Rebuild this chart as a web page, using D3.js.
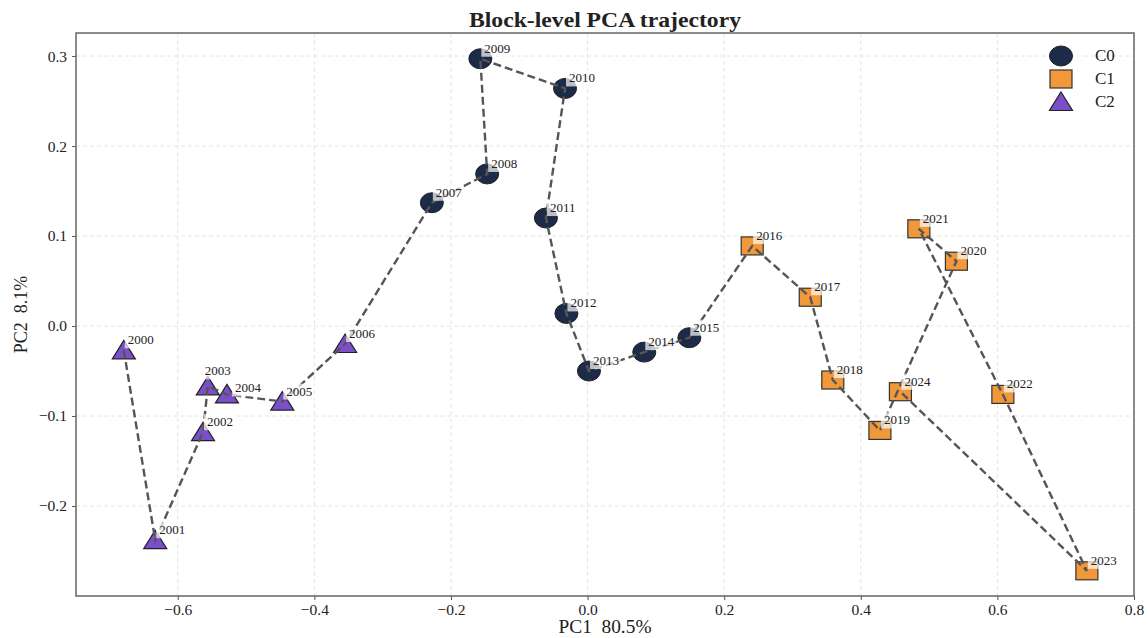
<!DOCTYPE html>
<html>
<head>
<meta charset="utf-8">
<script src="https://cdn.jsdelivr.net/npm/d3@7"></script>
<style>
  body { margin: 0; background: #fff; }
  svg text { font-family: "Liberation Serif", "DejaVu Serif", serif; fill: #222; white-space: pre; }
</style>
</head>
<body>
<svg id="chart" width="1148" height="638"></svg>
<script>
// ---- data ----
let years = [2000, 2001, 2002, 2003, 2004, 2005, 2006, 2007, 2008, 2009, 2010, 2011, 2012,
             2013, 2014, 2015, 2016, 2017, 2018, 2019, 2020, 2021, 2022, 2023, 2024];
let pc1 = [-0.679, -0.633, -0.563, -0.556, -0.528, -0.447, -0.355, -0.228, -0.147, -0.157, -0.033, -0.061, -0.031,
            0.002, 0.083, 0.149, 0.241, 0.326, 0.359, 0.428, 0.540, 0.485, 0.608, 0.731, 0.458];
let pc2 = [-0.027, -0.238, -0.118, -0.067, -0.076, -0.084, -0.020, 0.137, 0.169, 0.297, 0.264, 0.120, 0.014,
           -0.050, -0.029, -0.013, 0.089, 0.032, -0.060, -0.116, 0.072, 0.108, -0.076, -0.272, -0.073];
let cluster = ['C2', 'C2', 'C2', 'C2', 'C2', 'C2', 'C2', 'C0', 'C0', 'C0', 'C0', 'C0', 'C0',
               'C0', 'C0', 'C0', 'C1', 'C1', 'C1', 'C1', 'C1', 'C1', 'C1', 'C1', 'C1'];
let clusterNames = ['C0', 'C1', 'C2'];
let xTicks = [-0.6, -0.4, -0.2, 0.0, 0.2, 0.4, 0.6, 0.8];
let yTicks = [-0.2, -0.1, 0.0, 0.1, 0.2, 0.3];

let colors = { C0: '#1c2b47', C1: '#f0983a', C2: '#7b4fc9' };

let points = years.map((y, i) => ({ year: y, x: pc1[i], y: pc2[i], c: cluster[i] }));

let margin = { left: 76, right: 14, top: 33, bottom: 42 };
let W = 1148, H = 638;
let svg = d3.select('#chart');

let xScale = d3.scaleLinear()
    .domain([-0.749, 0.8])
    .range([margin.left, W - margin.right]);
let yScale = d3.scaleLinear()
    .domain([-0.3, 0.3256])
    .range([H - margin.bottom, margin.top]);

let fmt = v => d3.format('.1f')(v).replace('-', '\u2212');

// grid
svg.append('g')
    .selectAll('line')
    .data(xTicks)
    .join('line')
    .attr('x1', d => xScale(d)).attr('x2', d => xScale(d))
    .attr('y1', margin.top).attr('y2', H - margin.bottom)
    .attr('stroke', '#e4e4e4').attr('stroke-dasharray', '4,3');
svg.append('g')
    .selectAll('line')
    .data(yTicks)
    .join('line')
    .attr('y1', d => yScale(d)).attr('y2', d => yScale(d))
    .attr('x1', margin.left).attr('x2', W - margin.right)
    .attr('stroke', '#e4e4e4').attr('stroke-dasharray', '4,3');

// axes
let xAxis = svg.append('g')
    .attr('transform', `translate(0, ${H - margin.bottom})`)
    .call(d3.axisBottom(xScale).tickValues(xTicks).tickFormat(fmt).tickSize(4).tickPadding(4));
let yAxis = svg.append('g')
    .attr('transform', `translate(${margin.left}, 0)`)
    .call(d3.axisLeft(yScale).tickValues(yTicks).tickFormat(fmt).tickSize(4).tickPadding(5));
[xAxis, yAxis].forEach(a => {
    a.select('.domain').remove();
    a.selectAll('line').attr('stroke', '#555');
    a.selectAll('text').attr('font-size', 15.5).attr('fill', '#222')
        .style('font-family', '"Liberation Serif", serif');
});

// frame
svg.append('rect')
    .attr('x', margin.left).attr('y', margin.top)
    .attr('width', W - margin.left - margin.right)
    .attr('height', H - margin.top - margin.bottom)
    .attr('fill', 'none').attr('stroke', '#666').attr('stroke-width', 1.5);

// markers
function drawMarker(g, c, cx, cy) {
    if (c == 'C0') {
        g.append('ellipse').attr('cx', cx).attr('cy', cy).attr('rx', 11.5).attr('ry', 10)
            .attr('fill', colors.C0).attr('stroke', '#222').attr('stroke-width', 1);
    } else if (c == 'C1') {
        g.append('rect').attr('x', cx - 11).attr('y', cy - 9).attr('width', 22).attr('height', 18)
            .attr('fill', colors.C1).attr('stroke', '#333').attr('stroke-width', 1.2);
    } else {
        g.append('path')
            .attr('d', `M${cx},${cy - 10}L${cx + 11.5},${cy + 8.5}L${cx - 11.5},${cy + 8.5}Z`)
            .attr('fill', colors.C2).attr('stroke', '#222').attr('stroke-width', 1.2);
    }
}

let markG = svg.append('g');
points.forEach(p => drawMarker(markG, p.c, xScale(p.x), yScale(p.y)));

// trajectory
let line = d3.line().x(d => xScale(d.x)).y(d => yScale(d.y));
svg.append('path')
    .datum(points)
    .attr('d', line)
    .attr('fill', 'none')
    .attr('stroke', '#555')
    .attr('stroke-width', 2.4)
    .attr('stroke-dasharray', '8,4');

// year labels (two crowded ones pushed apart like in the original)
let nudge = { 2003: [-7, -5], 2004: [4, 4] };
let labG = svg.append('g');
points.forEach(p => {
    let n = nudge[p.year] || [0, 0];
    let cx = xScale(p.x) + n[0], cy = yScale(p.y) + n[1];
    labG.append('rect')
        .attr('x', cx + 1).attr('y', cy - 18)
        .attr('width', 31).attr('height', 16)
        .attr('fill', '#fff').attr('fill-opacity', 0.7);
    labG.append('text')
        .attr('x', cx + 4).attr('y', cy - 6)
        .attr('font-size', 13)
        .text(p.year);
});

// title and axis labels
let midX = (margin.left + W - margin.right) / 2;
svg.append('text')
    .attr('x', midX).attr('y', 27)
    .attr('text-anchor', 'middle').attr('font-size', 21).attr('font-weight', 'bold')
    .attr('textLength', 272).attr('lengthAdjust', 'spacingAndGlyphs')
    .text('Block-level PCA trajectory');
svg.append('text')
    .attr('x', midX).attr('y', 633)
    .attr('text-anchor', 'middle').attr('font-size', 18)
    .attr('textLength', 93).attr('lengthAdjust', 'spacingAndGlyphs')
    .text('PC1  80.5%');
svg.append('text')
    .attr('transform', `translate(27, ${(margin.top + H - margin.bottom) / 2}) rotate(-90)`)
    .attr('text-anchor', 'middle').attr('font-size', 18)
    .text('PC2  8.1%');

// legend
let legend = svg.append('g');
clusterNames.forEach((c, i) => {
    let ly = 56 + i * 23;
    drawMarker(legend, c, 1061, ly);
    legend.append('text')
        .attr('x', 1095).attr('y', ly + 5)
        .attr('font-size', 17)
        .text(c);
});
</script>
</body>
</html>
